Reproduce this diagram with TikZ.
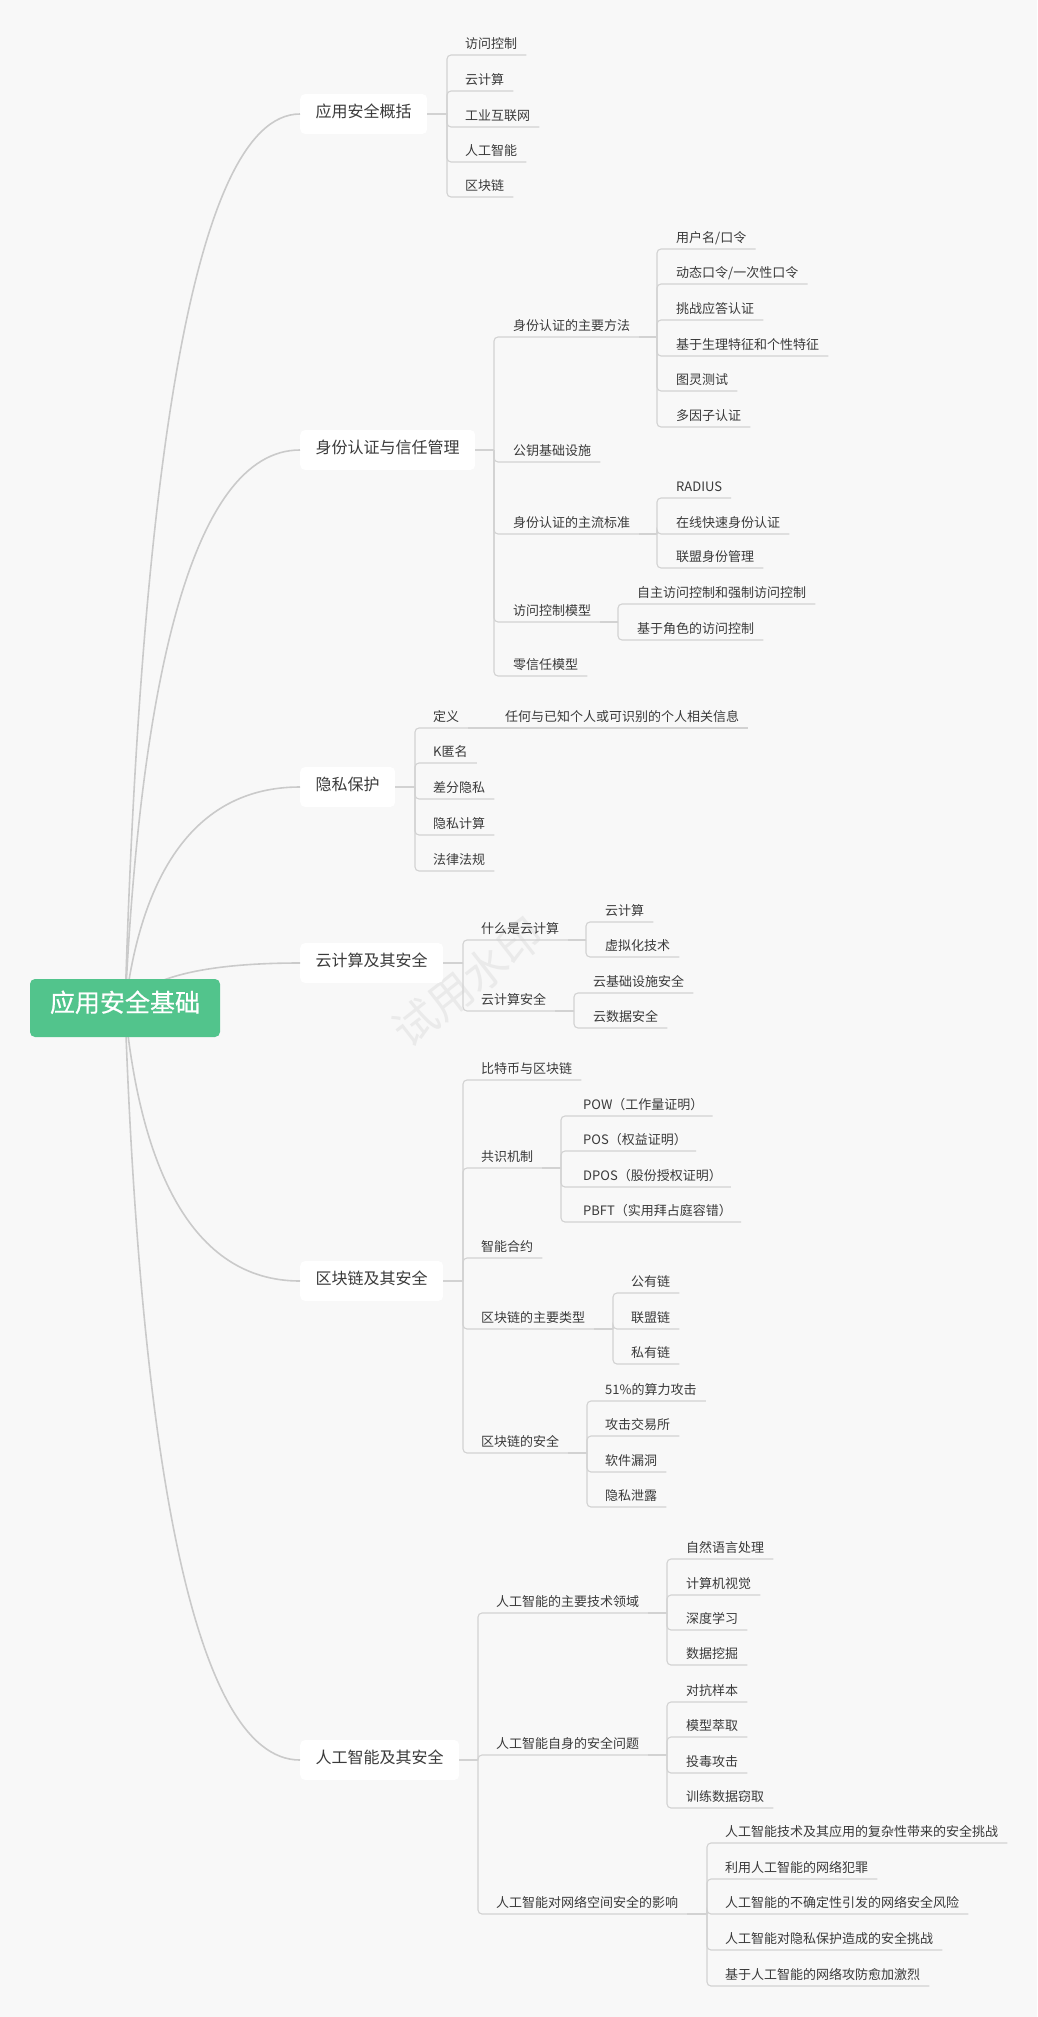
\documentclass[tikz,border=0pt]{standalone}
\usepackage{fontspec}
\setmainfont{Noto Sans CJK SC}
\newfontfamily\rootfont[FakeBold=0.6]{Noto Sans CJK SC}
\usetikzlibrary{calc}
\definecolor{bgc}{HTML}{F8F8F8}
\definecolor{linec}{HTML}{D2D2D2}
\definecolor{rootc}{HTML}{CACACA}
\definecolor{rootg}{HTML}{52C48C}
\definecolor{txt}{HTML}{3A3A3A}
\definecolor{wmc}{HTML}{EAEAEA}
\tikzset{
  ln/.style={draw=linec, line width=1.1pt},
  lnr/.style={draw=linec, line width=1.1pt, rounded corners=4pt},
  rootln/.style={draw=rootc, line width=1.6pt},
  leaf/.style={anchor=south west, inner xsep=9pt, inner ysep=5.5pt, text height=0.88em, text depth=0.12em, font=\fontsize{13}{13}\selectfont, text=txt},
  br/.style={anchor=west, fill=white, rounded corners=5pt, inner xsep=15.5pt, inner ysep=0pt, minimum height=40pt, text height=0.88em, text depth=0.12em, font=\fontsize{16}{16}\selectfont, text=txt},
  rootn/.style={fill=rootg, rounded corners=5pt, minimum width=190pt, minimum height=58pt, inner sep=0pt, text height=0.88em, text depth=0.12em, font=\rootfont\fontsize{25}{25}\selectfont, text=white},
  wm/.style={font=\fontsize{44}{44}\selectfont, text=wmc, rotate=38, inner sep=0pt}
}
\begin{document}
\begin{tikzpicture}[x=1pt,y=-1pt]
\useasboundingbox (0,0) rectangle (1037,2017);
\fill[bgc] (0,0) rectangle (1037,2017);

% watermark
\node[wm] (wmark) at (468,982) {试用水印};

% ---------- branch boxes ----------
\node[br] (b1) at (300,114) {应用安全概括};
\node[br] (b2) at (300,450) {身份认证与信任管理};
\node[br] (b3) at (300,787) {隐私保护};
\node[br] (b4) at (300,963) {云计算及其安全};
\node[br] (b5) at (300,1281) {区块链及其安全};
\node[br] (b6) at (300,1760) {人工智能及其安全};

% ---------- root curves ----------
\coordinate (rc) at (125,1008);
\draw[rootln] (rc) .. controls (140,498) and (190,114) .. (b1.west);
\draw[rootln] (rc) .. controls (140,690) and (190,450) .. (b2.west);
\draw[rootln] (rc) .. controls (140,882) and (190,787) .. (b3.west);
\draw[rootln] (rc) .. controls (140,982) and (190,963) .. (b4.west);
\draw[rootln] (rc) .. controls (140,1164) and (190,1281) .. (b5.west);
\draw[rootln] (rc) .. controls (140,1437) and (190,1760) .. (b6.west);
\node[rootn] (root) at (125,1008) {应用安全基础};

% ---------- branch 1 ----------
\coordinate (j1) at (447,114);
\draw[ln] (b1.east) -- (j1);
\node[leaf] (a11) at (456,55) {访问控制};
\node[leaf] (a12) at (456,91) {云计算};
\node[leaf] (a13) at (456,127) {工业互联网};
\node[leaf] (a14) at (456,162) {人工智能};
\node[leaf] (a15) at (456,197) {区块链};
\foreach \n in {a11,a12,a13,a14,a15} \draw[lnr] (j1) |- (\n.south east);

% ---------- branch 2 ----------
\coordinate (j2) at (494,450);
\draw[ln] (b2.east) -- (j2);
\node[leaf] (c1) at (504,337) {身份认证的主要方法};
\node[leaf] (c2) at (504,462) {公钥基础设施};
\node[leaf] (c3) at (504,534) {身份认证的主流标准};
\node[leaf] (c4) at (504,622) {访问控制模型};
\node[leaf] (c5) at (504,676) {零信任模型};
\foreach \n in {c1,c2,c3,c4,c5} \draw[lnr] (j2) |- (\n.south east);

\coordinate (k1) at (657,337);
\draw[ln] (c1.south east) -- (k1);
\node[leaf] (c11) at (667,249) {用户名/口令};
\node[leaf] (c12) at (667,284) {动态口令/一次性口令};
\node[leaf] (c13) at (667,320) {挑战应答认证};
\node[leaf] (c14) at (667,356) {基于生理特征和个性特征};
\node[leaf] (c15) at (667,391) {图灵测试};
\node[leaf] (c16) at (667,427) {多因子认证};
\foreach \n in {c11,c12,c13,c14,c15,c16} \draw[lnr] (k1) |- (\n.south east);

\coordinate (k3) at (657,534);
\draw[ln] (c3.south east) -- (k3);
\node[leaf] (c31) at (667,498) {RADIUS};
\node[leaf] (c32) at (667,534) {在线快速身份认证};
\node[leaf] (c33) at (667,568) {联盟身份管理};
\foreach \n in {c31,c32,c33} \draw[lnr] (k3) |- (\n.south east);

\coordinate (k4) at (618,622);
\draw[ln] (c4.south east) -- (k4);
\node[leaf] (c41) at (628,604) {自主访问控制和强制访问控制};
\node[leaf] (c42) at (628,640) {基于角色的访问控制};
\foreach \n in {c41,c42} \draw[lnr] (k4) |- (\n.south east);

% ---------- branch 3 ----------
\coordinate (j3) at (415,787);
\draw[ln] (b3.east) -- (j3);
\node[leaf] (p1) at (424,728) {定义};
\node[leaf] (p2) at (424,763) {K匿名};
\node[leaf] (p3) at (424,799) {差分隐私};
\node[leaf] (p4) at (424,835) {隐私计算};
\node[leaf] (p5) at (424,871) {法律法规};
\foreach \n in {p1,p2,p3,p4,p5} \draw[lnr] (j3) |- (\n.south east);
\node[leaf] (p11) at (496,728) {任何与已知个人或可识别的个人相关信息};
\draw[ln] (p1.south east) -- (p11.south east);

% ---------- branch 4 ----------
\coordinate (j4) at (463,963);
\draw[ln] (b4.east) -- (j4);
\node[leaf] (d1) at (472,940) {什么是云计算};
\node[leaf] (d2) at (472,1011) {云计算安全};
\foreach \n in {d1,d2} \draw[lnr] (j4) |- (\n.south east);
\coordinate (m1) at (586,940);
\draw[ln] (d1.south east) -- (m1);
\node[leaf] (d11) at (596,922) {云计算};
\node[leaf] (d12) at (596,957) {虚拟化技术};
\foreach \n in {d11,d12} \draw[lnr] (m1) |- (\n.south east);
\coordinate (m2) at (574,1011);
\draw[ln] (d2.south east) -- (m2);
\node[leaf] (d21) at (584,993) {云基础设施安全};
\node[leaf] (d22) at (584,1028) {云数据安全};
\foreach \n in {d21,d22} \draw[lnr] (m2) |- (\n.south east);

% ---------- branch 5 ----------
\coordinate (j5) at (463,1281);
\draw[ln] (b5.east) -- (j5);
\node[leaf] (e1) at (472,1080) {比特币与区块链};
\node[leaf] (e2) at (472,1168) {共识机制};
\node[leaf] (e3) at (472,1258) {智能合约};
\node[leaf] (e4) at (472,1329) {区块链的主要类型};
\node[leaf] (e5) at (472,1453) {区块链的安全};
\foreach \n in {e1,e2,e3,e4,e5} \draw[lnr] (j5) |- (\n.south east);

\coordinate (n2) at (561,1168);
\draw[ln] (e2.south east) -- (n2);
\node[leaf] (e21) at (574,1116) {POW（工作量证明）};
\node[leaf] (e22) at (574,1151) {POS（权益证明）};
\node[leaf] (e23) at (574,1187) {DPOS（股份授权证明）};
\node[leaf] (e24) at (574,1222) {PBFT（实用拜占庭容错）};
\foreach \n in {e21,e22,e23,e24} \draw[lnr] (n2) |- (\n.south east);

\coordinate (n4) at (613,1329);
\draw[ln] (e4.south east) -- (n4);
\node[leaf] (e41) at (622,1293) {公有链};
\node[leaf] (e42) at (622,1329) {联盟链};
\node[leaf] (e43) at (622,1364) {私有链};
\foreach \n in {e41,e42,e43} \draw[lnr] (n4) |- (\n.south east);

\coordinate (n5) at (587,1453);
\draw[ln] (e5.south east) -- (n5);
\node[leaf] (e51) at (596,1401) {51\%的算力攻击};
\node[leaf] (e52) at (596,1436) {攻击交易所};
\node[leaf] (e53) at (596,1472) {软件漏洞};
\node[leaf] (e54) at (596,1507) {隐私泄露};
\foreach \n in {e51,e52,e53,e54} \draw[lnr] (n5) |- (\n.south east);

% ---------- branch 6 ----------
\coordinate (j6) at (478,1760);
\draw[ln] (b6.east) -- (j6);
\node[leaf] (f1) at (487,1613) {人工智能的主要技术领域};
\node[leaf] (f2) at (487,1755) {人工智能自身的安全问题};
\node[leaf] (f3) at (487,1914) {人工智能对网络空间安全的影响};
\foreach \n in {f1,f2,f3} \draw[lnr] (j6) |- (\n.south east);

\coordinate (q1) at (667,1613);
\draw[ln] (f1.south east) -- (q1);
\node[leaf] (f11) at (677,1559) {自然语言处理};
\node[leaf] (f12) at (677,1595) {计算机视觉};
\node[leaf] (f13) at (677,1630) {深度学习};
\node[leaf] (f14) at (677,1665) {数据挖掘};
\foreach \n in {f11,f12,f13,f14} \draw[lnr] (q1) |- (\n.south east);

\coordinate (q2) at (667,1755);
\draw[ln] (f2.south east) -- (q2);
\node[leaf] (f21) at (677,1702) {对抗样本};
\node[leaf] (f22) at (677,1737) {模型萃取};
\node[leaf] (f23) at (677,1773) {投毒攻击};
\node[leaf] (f24) at (677,1808) {训练数据窃取};
\foreach \n in {f21,f22,f23,f24} \draw[lnr] (q2) |- (\n.south east);

\coordinate (q3) at (707,1914);
\draw[ln] (f3.south east) -- (q3);
\node[leaf] (f31) at (716,1843) {人工智能技术及其应用的复杂性带来的安全挑战};
\node[leaf] (f32) at (716,1879) {利用人工智能的网络犯罪};
\node[leaf] (f33) at (716,1914) {人工智能的不确定性引发的网络安全风险};
\node[leaf] (f34) at (716,1950) {人工智能对隐私保护造成的安全挑战};
\node[leaf] (f35) at (716,1986) {基于人工智能的网络攻防愈加激烈};
\foreach \n in {f31,f32,f33,f34,f35} \draw[lnr] (q3) |- (\n.south east);
\end{tikzpicture}
\end{document}
